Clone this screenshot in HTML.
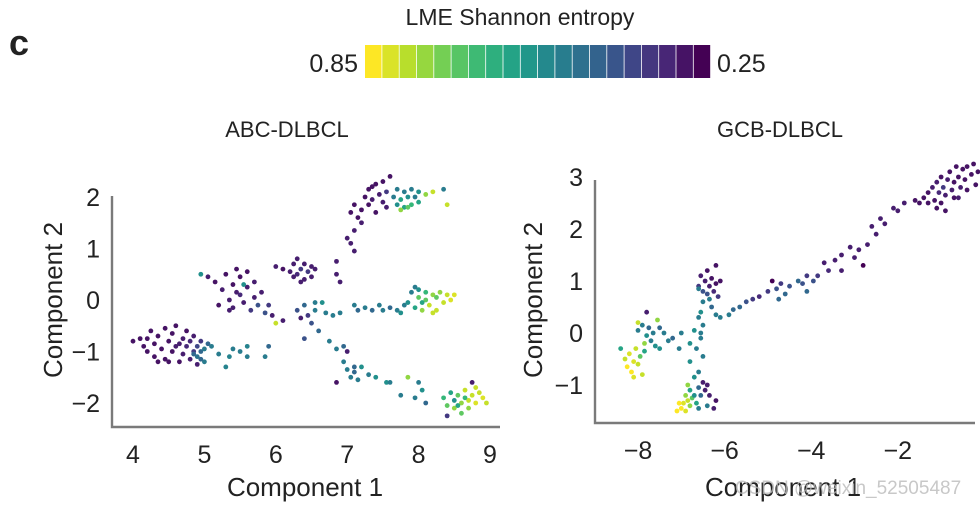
<!DOCTYPE html>
<html><head><meta charset="utf-8">
<style>
html,body{margin:0;padding:0;background:#fff;}
svg{display:block;font-family:"Liberation Sans",Arial,sans-serif;}
</style></head>
<body>
<svg id="fig" width="980" height="505" viewBox="0 0 980 505">
  <text x="9" y="55" font-size="36" font-weight="bold" fill="#222">c</text>
  <text x="520" y="25" font-size="23" text-anchor="middle" fill="#222">LME Shannon entropy</text>
  <g id="cbar"></g>
  <text x="358" y="72" font-size="25" text-anchor="end" fill="#222">0.85</text>
  <text x="717" y="72" font-size="25" fill="#222">0.25</text>
  <text x="287" y="137" font-size="22" text-anchor="middle" fill="#222">ABC-DLBCL</text>
  <text x="780" y="137" font-size="22" text-anchor="middle" fill="#222">GCB-DLBCL</text>
  <g id="left"></g>
  <g id="right"></g>
  <text x="848" y="494" font-size="19" text-anchor="middle" fill="#bbb" opacity="0.8">CSDN @weixin_52505487</text>
</svg>
<script>
// ---- data ----
const cbarLabels = ["0.85", "0.25"];
const eMax = 0.85, eMin = 0.25;
const leftXTicks = [4,5,6,7,8,9];
const leftYTicks = [-2,-1,0,1,2];
const rightXTicks = [-8,-6,-4,-2];
const rightYTicks = [-1,0,1,2,3];
// ABC-DLBCL points: [component1, component2, entropy]
const abcPoints = [
[4.0,-0.8,.28],[4.1,-0.75,.28],[4.15,-0.9,.28],[4.2,-1.0,.28],[4.25,-0.6,.28],[4.3,-0.85,.28],[4.3,-1.1,.28],[4.35,-0.7,.28],[4.4,-0.95,.28],[4.45,-0.55,.28],[4.45,-1.15,.28],[4.5,-0.8,.28],[4.55,-0.65,.28],[4.55,-1.0,.28],[4.6,-0.5,.28],[4.6,-0.9,.3],[4.65,-1.2,.28],[4.7,-0.75,.3],[4.7,-1.05,.3],[4.75,-0.6,.28],[4.75,-0.9,.32],[4.8,-1.15,.3],[4.8,-0.8,.32],[4.85,-0.7,.3],[4.85,-1.0,.35],[4.9,-0.9,.38],[4.9,-1.25,.3],[4.95,-0.8,.35],[4.5,-1.2,.28],[4.35,-1.2,.28],[4.65,-0.85,.3],[4.2,-0.75,.28],
[4.85,-1.05,.45],[4.9,-1.1,.48],[4.95,-1.0,.45],[5.0,-0.95,.5],[5.05,-0.85,.45],[5.0,-1.2,.5],[4.95,-1.15,.45],
[5.2,-1.05,.5],[5.35,-1.1,.52],[5.4,-0.95,.5],[5.5,-1.0,.5],[5.6,-0.9,.52],[5.6,-1.1,.5],[5.85,-1.1,.5],[5.9,-0.9,.45],[5.3,-1.3,.52],[5.1,-0.9,.5],
[4.95,0.5,.55],[5.05,0.45,.3],[5.15,0.35,.28],[5.25,0.2,.3],[5.2,-0.1,.28],[5.3,0.5,.28],[5.35,0.0,.3],[5.4,0.3,.28],[5.4,-0.15,.3],[5.45,0.6,.28],[5.5,0.1,.32],[5.5,0.45,.28],[5.55,-0.05,.3],[5.6,0.25,.3],[5.6,0.55,.28],[5.65,-0.2,.35],[5.7,0.05,.3],[5.7,0.35,.3],[5.75,-0.1,.4],[5.8,0.15,.3],[5.85,-0.25,.4],[5.9,-0.1,.35],[5.55,0.3,.55],[5.45,0.15,.3],[5.35,-0.2,.3],
[5.95,-0.3,.3],[6.0,-0.45,.8],[6.1,-0.4,.3],
[6.0,0.65,.3],[6.1,0.6,.28],[6.2,0.55,.3],[6.25,0.7,.3],[6.3,0.5,.32],[6.3,0.8,.3],[6.35,0.6,.35],[6.4,0.4,.3],[6.4,0.7,.3],[6.45,0.55,.35],[6.5,0.45,.3],[6.5,0.65,.3],[6.55,0.6,.3],[6.35,0.35,.3],[6.25,0.45,.3],
[6.3,-0.2,.4],[6.35,-0.35,.3],[6.4,-0.1,.45],[6.45,-0.3,.35],[6.5,-0.45,.4],[6.55,-0.2,.5],[6.6,-0.6,.45],[6.7,-0.25,.5],[6.65,-0.05,.55],[6.55,-0.05,.5],[6.4,-0.75,.4],[6.8,-0.3,.5],[6.75,-0.8,.5],[6.85,-0.95,.5],[6.95,-0.9,.45],[7.0,-1.0,.3],[6.95,-1.2,.5],[7.0,-1.35,.5],[7.05,-1.5,.5],[7.1,-1.4,.45],[7.15,-1.55,.5],[7.2,-1.3,.55],[7.1,-1.3,.45],[7.3,-1.45,.5],[7.4,-1.5,.55],[7.55,-1.6,.55],[7.6,-1.6,.5],[6.85,-1.6,.28],[7.85,-1.5,.75],[7.75,-1.85,.5],[8.0,-1.6,.5],[7.95,-1.9,.5],[8.05,-1.75,.55],[8.1,-2.0,.45],
[8.35,-1.9,.65],[8.4,-2.05,.7],[8.45,-1.8,.6],[8.5,-2.1,.75],[8.5,-1.95,.55],[8.55,-1.85,.7],[8.6,-2.0,.75],[8.6,-2.2,.7],[8.65,-1.75,.8],[8.7,-1.95,.8],[8.7,-2.1,.75],[8.75,-1.85,.8],[8.8,-2.0,.82],[8.85,-1.8,.8],[8.9,-1.9,.82],[8.95,-2.0,.8],[8.4,-2.25,.35],[8.55,-2.05,.6],[8.65,-1.9,.65],[8.8,-1.7,.8],[8.75,-1.6,.3],
[6.9,-0.25,.5],[7.1,-0.1,.5],[7.15,-0.2,.45],[7.25,-0.15,.5],[7.35,-0.2,.45],[7.45,-0.1,.5],[7.5,-0.2,.5],[7.6,-0.15,.45],[7.7,-0.2,.5],[7.8,-0.1,.5],[7.75,-0.25,.55],
[7.85,-0.05,.55],[7.9,0.15,.5],[7.95,-0.15,.6],[8.0,0.05,.7],[8.0,0.2,.55],[8.05,-0.2,.75],[8.1,0.0,.7],[8.1,0.15,.65],[8.15,-0.1,.8],[8.2,0.1,.75],[8.25,-0.2,.8],[8.25,0.05,.7],[8.3,0.15,.75],[8.35,-0.05,.8],[8.4,0.1,.8],[8.45,0.0,.82],[8.5,0.1,.82],[7.95,0.25,.5],[8.05,-0.05,.6],[8.2,-0.25,.8],
[6.85,0.75,.3],[6.85,0.5,.3],[6.9,0.35,.3],[7.0,1.2,.3],[7.05,1.1,.3],[7.1,1.35,.3],[7.1,0.95,.3],
[7.05,1.7,.28],[7.1,1.85,.28],[7.15,1.6,.28],[7.2,1.75,.28],[7.25,2.0,.28],[7.2,1.5,.3],[7.3,1.85,.28],[7.3,2.15,.28],[7.35,1.95,.3],[7.4,2.25,.28],[7.4,1.7,.28],[7.45,2.05,.3],[7.5,2.3,.28],[7.5,1.9,.3],[7.55,2.1,.35],[7.6,2.4,.28],[7.55,1.8,.3],[7.35,2.2,.28],
[7.65,2.0,.5],[7.7,1.85,.55],[7.7,2.15,.5],[7.75,1.95,.6],[7.8,2.1,.5],[7.8,1.8,.6],[7.85,2.0,.55],[7.9,2.15,.5],[7.9,1.85,.65],[7.95,2.0,.5],[8.0,2.1,.55],[8.0,1.9,.6],[7.75,1.75,.75],[8.1,2.05,.75],[8.2,2.1,.8],[8.35,2.15,.5],[8.4,1.85,.8],[7.85,1.8,.7]
];
// GCB-DLBCL points: [component1, component2, entropy]
const gcbPoints = [
[-1.6,2.55,.28],[-1.5,2.5,.28],[-1.4,2.6,.28],[-1.3,2.7,.28],[-1.3,2.5,.28],[-1.2,2.8,.3],[-1.15,2.55,.28],[-1.1,2.9,.3],[-1.05,2.7,.32],[-1.0,3.0,.28],[-1.0,2.5,.28],[-0.95,2.8,.35],[-0.9,2.65,.3],[-0.85,2.95,.3],[-0.8,3.1,.28],[-0.75,2.75,.3],[-0.7,2.9,.28],[-0.65,3.2,.28],[-0.6,3.0,.28],[-0.55,2.8,.3],[-0.5,3.15,.28],[-0.45,2.95,.28],[-0.4,3.2,.28],[-0.3,3.05,.28],[-0.25,3.25,.28],[-0.2,2.85,.28],[-0.15,3.1,.28],[-0.7,2.6,.28],[-0.9,2.35,.28],[-0.6,2.6,.3],[-0.4,2.75,.28],[-1.1,2.4,.28],
[-2.0,2.35,.3],[-2.1,2.4,.3],[-1.85,2.5,.3],[-2.3,2.1,.3],[-2.5,1.9,.3],[-2.6,2.05,.3],[-2.4,2.2,.3],[-2.7,1.7,.3],[-2.9,1.6,.3],[-3.0,1.45,.3],[-3.1,1.65,.3],[-3.3,1.5,.3],[-3.45,1.4,.3],[-3.6,1.2,.32],[-3.7,1.35,.3],[-3.85,1.1,.35],[-3.95,1.0,.4],[-4.1,1.1,.35],[-4.2,0.95,.4],[-4.3,1.0,.45],[-4.5,0.9,.4],[-4.6,0.75,.45],[-4.7,0.95,.35],[-4.8,0.85,.4],[-4.9,1.0,.25],[-5.0,0.8,.35],[-5.2,0.7,.32],[-5.35,0.65,.35],[-5.5,0.6,.4],[-5.65,0.5,.45],[-5.8,0.45,.45],[-5.9,0.35,.5],[-6.1,0.3,.5],[-6.2,0.35,.5],[-3.3,1.2,.3],[-2.8,1.3,.25],[-4.1,0.8,.45],[-4.75,0.65,.45],
[-6.6,0.9,.35],[-6.55,1.1,.3],[-6.5,0.8,.4],[-6.45,1.0,.3],[-6.4,1.2,.28],[-6.4,0.75,.4],[-6.35,0.9,.3],[-6.3,1.05,.28],[-6.25,0.8,.32],[-6.2,0.95,.28],[-6.2,1.3,.28],[-6.15,0.7,.35],[-6.1,1.0,.28],[-6.5,0.6,.5],[-6.6,0.85,.5],[-6.35,0.65,.5],[-6.3,0.5,.45],[-6.55,0.4,.55],
[-6.6,0.3,.5],[-6.5,0.15,.5],[-6.7,0.05,.55],[-6.55,-0.1,.5],[-6.8,-0.2,.55],[-6.65,-0.3,.5],[-6.5,-0.45,.5],[-6.8,-0.55,.55],[-6.6,-0.75,.5],[-6.7,-0.85,.55],[-6.55,0.0,.5],
[-7.1,-1.5,.85],[-7.0,-1.45,.85],[-6.95,-1.35,.82],[-6.9,-1.5,.82],[-6.85,-1.3,.8],[-6.8,-1.4,.75],[-6.75,-1.25,.7],[-7.05,-1.35,.85],[-6.9,-1.2,.75],[-6.8,-1.1,.6],[-6.7,-1.2,.55],[-6.65,-1.35,.6],[-6.6,-1.05,.45],[-6.55,-1.2,.45],[-6.5,-0.95,.3],[-6.45,-1.1,.3],[-6.4,-1.0,.3],[-6.35,-1.2,.3],[-6.4,-1.4,.5],[-6.2,-1.3,.28],[-6.25,-1.45,.3],[-6.6,-1.45,.5],[-6.85,-1.0,.75],
[-8.4,-0.3,.6],[-8.3,-0.5,.8],[-8.25,-0.65,.85],[-8.2,-0.4,.82],[-8.15,-0.75,.85],[-8.1,-0.55,.82],[-8.05,-0.3,.8],[-8.0,-0.6,.8],[-7.95,-0.45,.7],[-7.9,-0.8,.8],[-7.85,-0.35,.6],[-8.1,-0.85,.82],
[-8.0,0.05,.5],[-7.9,0.15,.5],[-7.8,-0.05,.55],[-7.75,0.1,.45],[-7.7,-0.15,.5],[-7.65,0.0,.5],[-7.6,-0.25,.55],[-7.5,0.1,.45],[-7.4,0.0,.5],[-7.3,-0.15,.5],[-7.2,-0.1,.45],[-7.0,0.0,.5],[-7.05,-0.3,.5],[-7.8,0.4,.3],[-7.5,-0.3,.55],[-8.0,0.2,.8],[-7.85,-0.2,.75],[-7.55,0.25,.75]
];

// ---- helpers ----
const NS = "http://www.w3.org/2000/svg";
const vir = [[68,1,84],[72,40,120],[62,74,137],[49,104,142],[38,130,142],[31,158,137],[53,183,121],[109,205,89],[180,222,44],[253,231,37]];
function viridis(t){t=Math.max(0,Math.min(1,t));const p=t*(vir.length-1),i=Math.min(vir.length-2,Math.floor(p)),f=p-i;
  const c=vir[i].map((v,k)=>Math.round(v+(vir[i+1][k]-v)*f));return `rgb(${c[0]},${c[1]},${c[2]})`;}
function entColor(e){return viridis((e-eMin)/(eMax-eMin));}
function mk(tag,attrs,parent){const el=document.createElementNS(NS,tag);for(const k in attrs)el.setAttribute(k,attrs[k]);parent.appendChild(el);return el;}

// colorbar
const cb=document.getElementById('cbar');
const nSeg=20, cbX=365, cbW=346, cbY=45, cbH=33;
for(let i=0;i<nSeg;i++){
  const r=mk('rect',{x:cbX+i*cbW/nSeg,y:cbY,width:cbW/nSeg-0.8,height:cbH,fill:viridis(1-i/(nSeg-1))},cb);
  
  
}

function panel(g,cfg){
  const sx=v=>cfg.x0+(v-cfg.xv0)*cfg.xs, sy=v=>cfg.y0-(v-cfg.yv0)*cfg.ys;
  const ax=mk('path',{d:`M${cfg.axL},${cfg.axTop} V${cfg.axB} H${cfg.axR}`,fill:'none',stroke:'#7a7a7a','stroke-width':2.4},g);
  
  
  cfg.xt.forEach(v=>{const t=mk('text',{x:sx(v),y:cfg.axB+36,'font-size':25,'text-anchor':'middle',fill:'#222'},g);t.textContent=(v<0?'\u2212':'')+Math.abs(v);
    
    });
  cfg.yt.forEach(v=>{const t=mk('text',{x:cfg.axL-12,y:sy(v)+9,'font-size':25,'text-anchor':'end',fill:'#222'},g);t.textContent=(v<0?'\u2212':'')+Math.abs(v);
    
    });
  const xt=mk('text',{x:cfg.xtX,y:496,'font-size':26,'text-anchor':'middle',fill:'#222'},g);xt.textContent='Component 1';
  
  
  const yt=mk('text',{x:0,y:0,'font-size':26,'text-anchor':'middle',fill:'#222',transform:`translate(${cfg.ytX},${cfg.ytY}) rotate(-90)`},g);yt.textContent='Component 2';
  
  
  cfg.pts.forEach(p=>{const c=mk('circle',{cx:sx(p[0]),cy:sy(p[1]),r:2.4,fill:entColor(p[2])},g);
    
    });
}
panel(document.getElementById('left'),{x0:133,xv0:4,xs:71.4,y0:300,yv0:0,ys:51.5,axL:112,axTop:196,axB:427,axR:500,xt:leftXTicks,yt:leftYTicks,xtX:305,ytX:62,ytY:300,pts:abcPoints});
panel(document.getElementById('right'),{x0:638,xv0:-8,xs:43.3,y0:333,yv0:0,ys:52,axL:595,axTop:180,axB:423,axR:975,xt:rightXTicks,yt:rightYTicks,xtX:783,ytX:542,ytY:300,pts:gcbPoints});
</script>
</body></html>
